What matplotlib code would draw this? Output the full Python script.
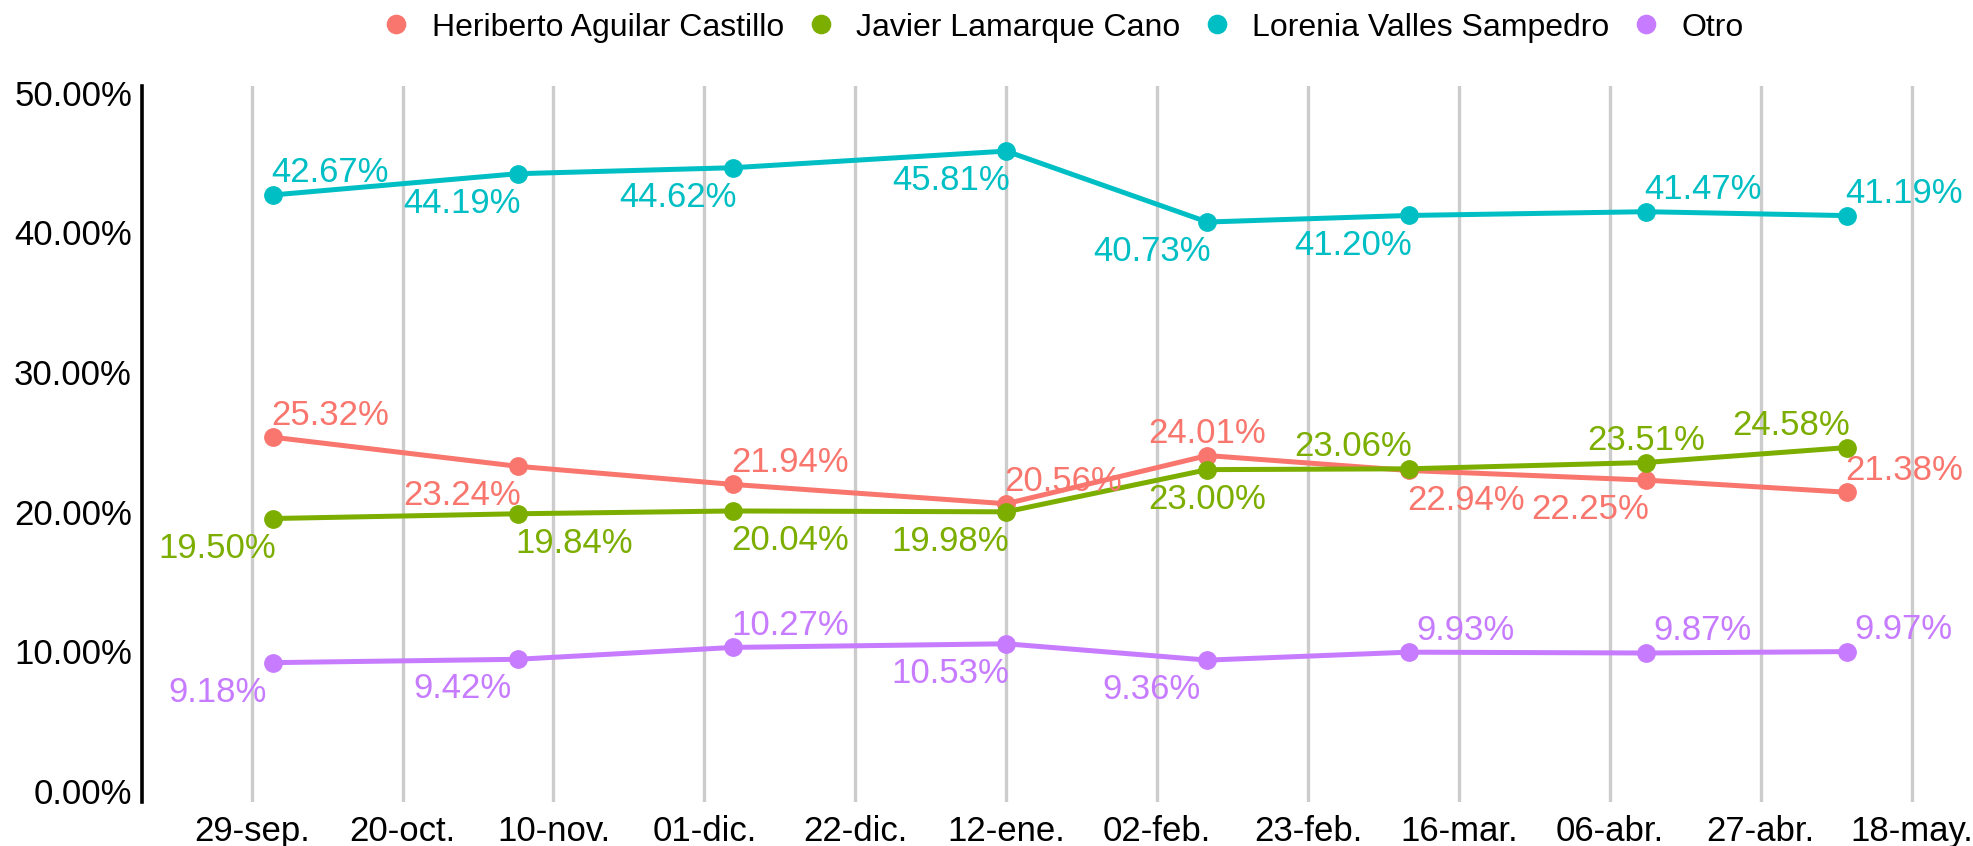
import matplotlib
matplotlib.use('Agg')
import matplotlib.pyplot as plt
import datetime as dt

plt.rcParams['font.family'] = ['Liberation Sans', 'DejaVu Sans']

# fechas de las encuestas
fechas = ['2020-10-02', '2020-11-05', '2020-12-05', '2021-01-12',
          '2021-02-09', '2021-03-09', '2021-04-11', '2021-05-09']

candidatos = ['Heriberto Aguilar Castillo', 'Javier Lamarque Cano',
              'Lorenia Valles Sampedro', 'Otro']

heriberto = [25.32, 23.24, 21.94, 20.56, 24.01, 22.94, 22.25, 21.38]
javier = [19.50, 19.84, 20.04, 19.98, 23.00, 23.06, 23.51, 24.58]
lorenia = [42.67, 44.19, 44.62, 45.81, 40.73, 41.20, 41.47, 41.19]
otro = [9.18, 9.42, 10.27, 10.53, 9.36, 9.93, 9.87, 9.97]

tick_labels = ['29-sep.', '20-oct.', '10-nov.', '01-dic.', '22-dic.', '12-ene.',
               '02-feb.', '23-feb.', '16-mar.', '06-abr.', '27-abr.', '18-may.']

colores = ['#F8766D', '#7CAE00', '#00BFC4', '#C77CFF']

# where each label sits: u/d = above/below, l/c/r = text to left, centred, right
lado = [
    ['ur', 'dl', 'ur', 'ur', 'uc', 'dr', 'dl', 'ur'],
    ['dl', 'dr', 'dr', 'dl', 'dc', 'ul', 'uc', 'ul'],
    ['ur', 'dl', 'dl', 'dl', 'dl', 'dl', 'ur', 'ur'],
    ['dl', 'dl', 'ur', 'dl', 'dl', 'ur', 'ur', 'ur'],
]

x = [dt.datetime.strptime(f, '%Y-%m-%d') for f in fechas]
inicio = dt.datetime(2020, 9, 29)
ticks = [inicio + dt.timedelta(days=21 * i) for i in range(len(tick_labels))]

fig = plt.figure(figsize=(19.74, 8.46), dpi=100)
ax = fig.add_axes([0.0718, 0.052, 0.921, 0.846])

series = [heriberto, javier, lorenia, otro]
for nombre, vals, col, pos in zip(candidatos, series, colores, lado):
    ax.plot(x, vals, color=col, lw=3.6, marker='o', markersize=12.5, label=nombre, zorder=3)
    for xi, v, p in zip(x, vals, pos):
        dy = 9 if p[0] == 'u' else -9.5
        va = 'baseline' if p[0] == 'u' else 'top'
        dx = {'r': 41, 'l': -40, 'c': 0}[p[1]]
        ax.annotate('%.2f%%' % v, (xi, v), xytext=(dx, dy), textcoords='offset points',
                    ha='center', va=va, color=col, fontsize=25, zorder=4)

ax.set_xticks(ticks)
ax.set_xticklabels(tick_labels)
ax.set_xlim(inicio - dt.timedelta(days=15.3), inicio + dt.timedelta(days=237.7))
ax.set_ylim(-0.8, 50.45)
ax.set_yticks([0, 10, 20, 30, 40, 50])
ax.set_yticklabels(['%.2f%%' % t for t in [0, 10, 20, 30, 40, 50]])

ax.grid(axis='x', color='#CCCCCC', lw=2.4)
ax.set_axisbelow(True)
for s in ['top', 'right', 'bottom']:
    ax.spines[s].set_visible(False)
ax.spines['left'].set_linewidth(2.6)
ax.tick_params(length=0, labelsize=25, pad=7)
ax.tick_params(axis='x', pad=9)

ax.legend(loc='lower center', bbox_to_anchor=(0.507, 1.021), ncol=4, frameon=False,
          fontsize=23, handlelength=0.8, handletextpad=0.7, columnspacing=0.75,
          markerscale=1.05)
leg = ax.get_legend()
for h in leg.legend_handles:
    h.set_linestyle('none')

fig.savefig('out.png', dpi=100)
